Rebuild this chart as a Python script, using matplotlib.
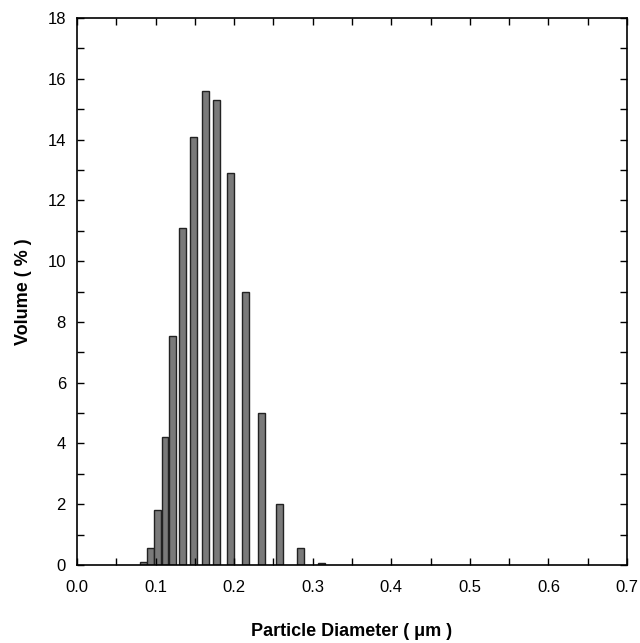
import matplotlib
matplotlib.use("Agg")
import matplotlib.pyplot as plt
from matplotlib.ticker import MultipleLocator

plt.rcParams['font.family'] = ['Liberation Sans', 'DejaVu Sans']

# bin centres (um) and volume (%)
diameter = [0.0845, 0.094, 0.102, 0.112, 0.122, 0.134, 0.148, 0.163,
            0.178, 0.195, 0.214, 0.235, 0.258, 0.285, 0.311]
volume = [0.1, 0.57, 1.8, 4.2, 7.55, 11.1, 14.1, 15.6,
          15.3, 12.9, 9.0, 5.0, 2.0, 0.55, 0.08]

fig = plt.figure(figsize=(6.4, 6.43), dpi=100)
ax = fig.add_axes([0.1203, 0.1213, 0.8594, 0.8507])

ax.bar(diameter, volume, width=0.0088, color="#7a7a7a", edgecolor="#222222", linewidth=1.0)

ax.set_xlim(0, 0.7)
ax.set_ylim(0, 18)
ax.xaxis.set_major_locator(MultipleLocator(0.1))
ax.xaxis.set_minor_locator(MultipleLocator(0.05))
ax.yaxis.set_major_locator(MultipleLocator(2))
ax.yaxis.set_minor_locator(MultipleLocator(1))
ax.xaxis.set_major_formatter(matplotlib.ticker.FormatStrFormatter("%.1f"))
ax.tick_params(which="both", direction="in", top=True, right=True, labelsize=12, width=1)
ax.tick_params(which="both", length=5)
ax.tick_params(axis="x", pad=11)
ax.tick_params(axis="y", pad=8)
for s in ax.spines.values():
    s.set_linewidth(1.2)

ax.set_xlabel("Particle Diameter ( μm )", fontsize=13, fontweight="bold", labelpad=20)
ax.set_ylabel("Volume ( % )", fontsize=13, fontweight="bold", labelpad=11)

fig.savefig("out.png", dpi=100)
